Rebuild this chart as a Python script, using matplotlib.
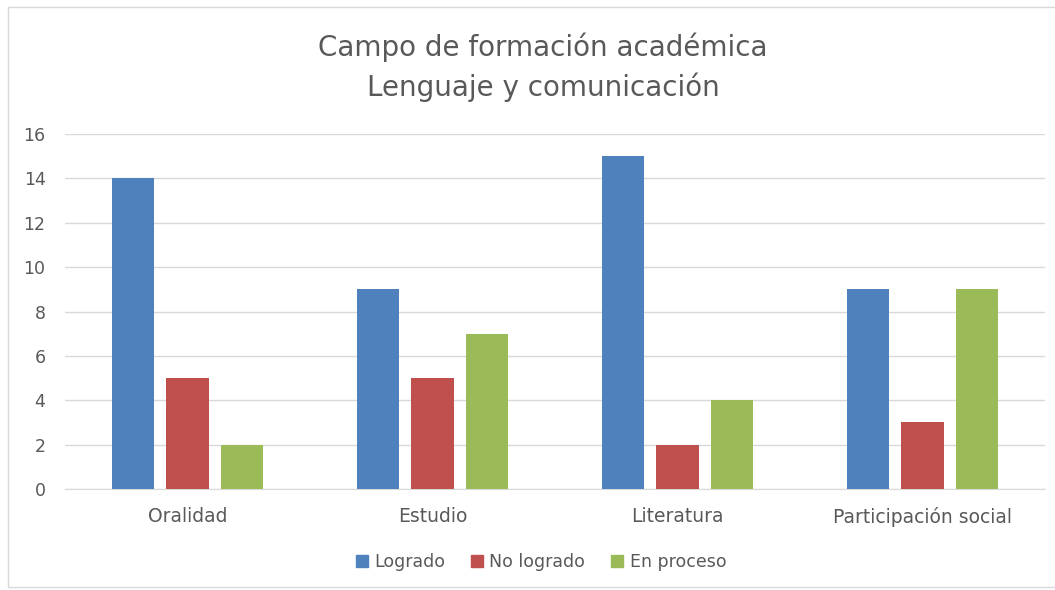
import numpy as np
import matplotlib.pyplot as plt
import matplotlib.patches as mpatches

categories = ['Oralidad', 'Estudio', 'Literatura', 'Participación social']
logrado = [14, 9, 15, 9]
no_logrado = [5, 5, 2, 3]
en_proceso = [2, 7, 4, 9]
series_names = ['Logrado', 'No logrado', 'En proceso']
colors = ['#4F81BD', '#C0504D', '#9BBB59']

plt.rcParams['font.family'] = ['DejaVu Sans']

fig = plt.figure(figsize=(10.55, 5.9), dpi=100, facecolor='white')
# outer chart border
fig.patches.append(mpatches.Rectangle((8 / 1055, 0.005), 1 - 8 / 1055 + 0.01, 1 - 7 / 590 - 0.005,
                                      transform=fig.transFigure, fill=False,
                                      edgecolor='#D9D9D9', linewidth=1.0))

ax = fig.add_axes([65 / 1055, 1 - 489 / 590, 980 / 1055, (489 - 134) / 590])
x = np.arange(len(categories))
w = 0.172
offsets = [-0.222, 0.0, 0.222]
for vals, off, c, name in zip([logrado, no_logrado, en_proceso], offsets, colors, series_names):
    ax.bar(x + off, vals, width=w, color=c, label=name, zorder=3)

ax.set_xlim(-0.5, 3.5)
ax.set_ylim(0, 16)
ax.set_yticks(range(0, 17, 2))
ax.yaxis.grid(True, color='#D9D9D9', linewidth=1.0, zorder=0)
for s in ['top', 'right', 'left']:
    ax.spines[s].set_visible(False)
ax.spines['bottom'].set_color('#D9D9D9')
ax.tick_params(axis='both', length=0, colors='#595959', labelsize=12.5)
ax.tick_params(axis='x', pad=13, labelsize=13.5)
ax.tick_params(axis='y', pad=14)
ax.set_xticks(x)
ax.set_xticklabels(categories)

fig.text(543 / 1055, 1 - 47 / 590, 'Campo de formación académica', ha='center', va='center',
         fontsize=20, color='#595959')
fig.text(543 / 1055, 1 - 87 / 590, 'Lenguaje y comunicación', ha='center', va='center',
         fontsize=20, color='#595959')

handles = [mpatches.Patch(color=c, label=n) for c, n in zip(colors, series_names)]
leg = fig.legend(handles=handles, loc='center', bbox_to_anchor=(541 / 1055, 1 - 562 / 590), ncol=3,
                 frameon=False, handlelength=0.7, handleheight=0.7, handletextpad=0.35,
                 columnspacing=1.5, prop={'size': 12.5})
for t in leg.get_texts():
    t.set_color('#595959')

fig.savefig('out.png', dpi=100, facecolor='white')
